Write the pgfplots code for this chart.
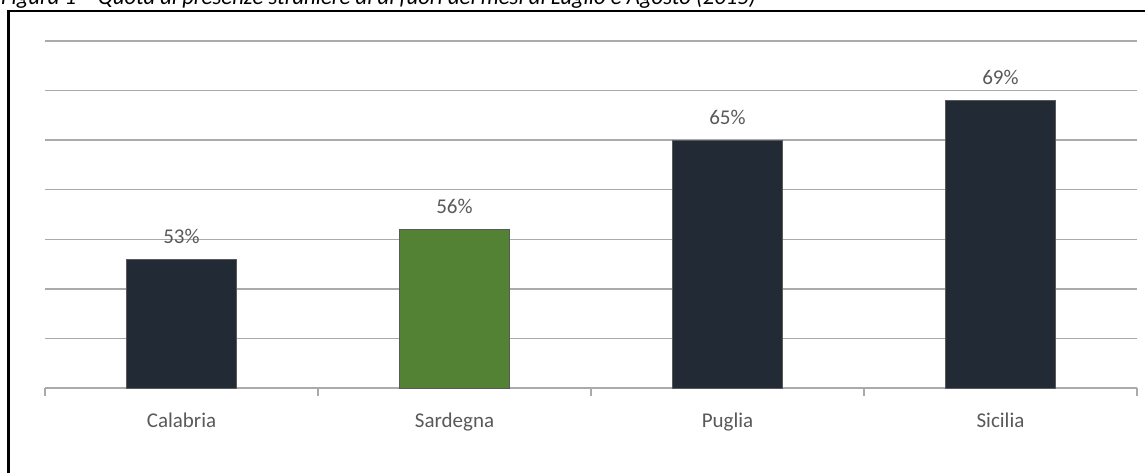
\documentclass[border=0pt]{standalone}
\usepackage{pgfplots}
\pgfplotsset{compat=1.18}
\usepackage{fontspec}
\setmainfont{Carlito}
\definecolor{barblu}{RGB}{34,42,53}
\definecolor{barverde}{RGB}{84,130,53}
\definecolor{griglia}{RGB}{170,170,170}
\definecolor{testo}{RGB}{89,89,89}
\begin{document}
\begin{tikzpicture}[x=1pt,y=1pt]
\useasboundingbox (0,0) rectangle (1145,472);
% cornice e titolo (tagliati in alto come nel riferimento)
\draw[line width=2.6pt] (8.5,-20) -- (8.5,461) -- (1170,461);
\node[anchor=base west, inner sep=0] at (1,467)
  {\fontsize{22.7}{26}\selectfont\itshape Figura 1 -- Quota di presenze straniere al di fuori dei mesi di Luglio e Agosto (2015)};
\begin{axis}[
    at={(45pt,84pt)}, anchor=south west,
    scale only axis,
    width=1092pt, height=347pt,
    xmin=-0.5, xmax=3.5,
    ymin=40, ymax=75,
    ytick={45,50,...,75},
    yticklabels={},
    ymajorgrids,
    major grid style={griglia, line width=1.3pt},
    axis x line*=bottom,
    axis y line*=left,
    y axis line style={draw=none},
    major y tick style={draw=none},
    x axis line style={griglia, line width=1.3pt, -},
    xtick={0,1,2,3},
    xticklabels={Calabria,Sardegna,Puglia,Sicilia},
    major x tick style={draw=none},
    minor xtick={-0.5,0.5,1.5,2.5,3.5},
    minor tick length=8pt,
    minor x tick style={griglia, line width=1.3pt},
    tick align=outside,
    xticklabel style={font=\fontsize{21}{25}\selectfont, text=testo, anchor=base, yshift=-35pt},
    /pgf/number format/assume math mode=true,
    ybar, bar width=0.403, bar shift=0pt,
    nodes near coords={\pgfmathprintnumber{\pgfplotspointmeta}\%},
    every node near coord/.append style={font=\fontsize{21}{25}\selectfont, text=testo, anchor=base, yshift=16pt, inner sep=0},
    clip=false
]
\addplot[fill=barblu, draw=gray!70!black, line width=0.8pt, bar shift=0pt] coordinates {(0,53) (2,65) (3,69)};
\addplot[fill=barverde, draw=gray!70!black, line width=0.8pt, bar shift=0pt] coordinates {(1,56)};
\end{axis}
\end{tikzpicture}
\end{document}
